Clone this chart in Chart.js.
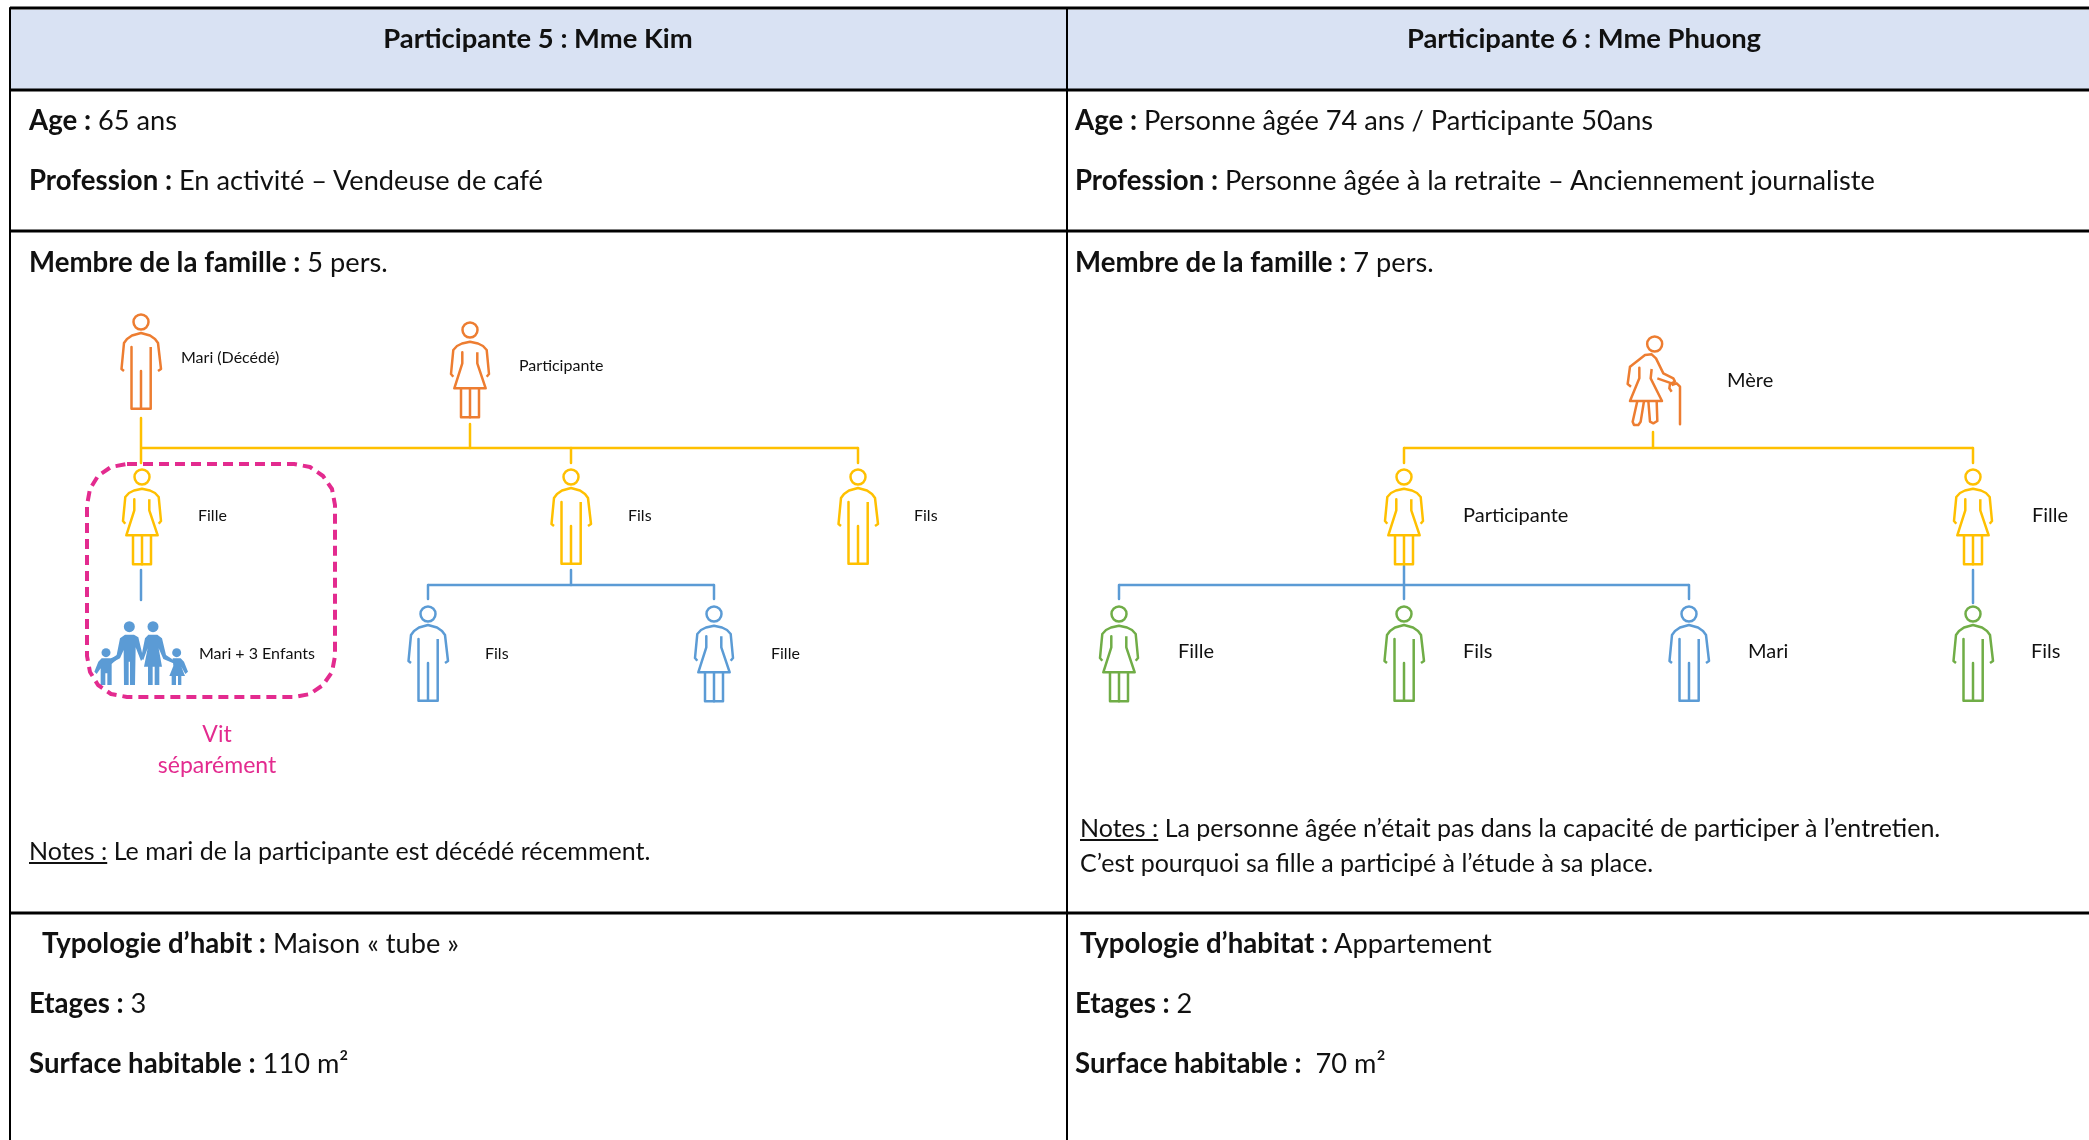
<!DOCTYPE html>
<html lang="fr">
<head>
<meta charset="utf-8">
<title>Participantes 5 et 6</title>
<script src="https://cdn.jsdelivr.net/npm/chart.js"></script>
<style>
  html, body { margin: 0; padding: 0; background: #fff; overflow: hidden; }
  #page { position: relative; width: 2089px; height: 1140px; overflow: hidden; font-family: Lato, sans-serif; color: #111; }
  #diagram { position: absolute; left: 0; top: 0; }
  .t { position: absolute; white-space: nowrap; transform: translateY(-50%); font-size: 27.2px; line-height: 1.2; }
  .t b { font-size: 27.6px; }
  .c { transform: translate(-50%, -50%); }
  .small { font-size: 16px; }
  .mid { font-size: 20px; }
  .pink { color: #e32b8f; font-size: 23px; }
  .head { font-weight: 700; font-size: 27.4px; }
  .note { font-size: 25px; }
</style>
</head>
<body>
<div id="page">
  <canvas id="diagram" width="2089" height="1140"></canvas>
</div>
<script>
// people of both family trees, x/y = centre of the head in page pixels
const personX = [141, 470, 142, 571, 858, 428, 714, 1404, 1973, 1119, 1404, 1689, 1973];
const personY = [322, 330, 477, 477, 477, 614, 614, 477, 477, 614, 614, 614, 614];
const personShape = ["man", "woman", "woman", "man", "man", "man", "woman", "woman", "woman", "woman", "man", "man", "man"];
const personColor = ["#ED7D31", "#ED7D31", "#FFC000", "#FFC000", "#FFC000", "#5B9BD5", "#5B9BD5", "#FFC000", "#FFC000", "#70AD47", "#70AD47", "#5B9BD5", "#70AD47"];

// connectors [x1, y1, x2, y2]
const yellowLinks = [
  [141, 418, 141, 463], [141, 448, 858, 448], [470, 424, 470, 448], [571, 448, 571, 463], [858, 448, 858, 463],
  [1653, 432, 1653, 448], [1404, 448, 1973, 448], [1404, 448, 1404, 463], [1973, 448, 1973, 463]
];
const blueLinks = [
  [141, 570, 141, 600], [571, 570, 571, 585], [428, 585, 714, 585], [428, 585, 428, 599], [714, 585, 714, 599],
  [1404, 566, 1404, 585], [1119, 585, 1689, 585], [1119, 585, 1119, 599], [1404, 585, 1404, 599], [1689, 585, 1689, 599],
  [1973, 570, 1973, 603]
];
const tableLines = [
  [10, 8, 2089, 8], [10, 90, 2089, 90], [10, 231, 2089, 231], [10, 913, 2089, 913],
  [10, 8, 10, 1140], [1067, 8, 1067, 1140]
];

// stick figures, offsets from the head centre
const manStrokes = [
  [[-17, 49], [-19.5, 47], [-17, 21], [-14, 17], [-9, 13.5], [0, 11], [9, 13.5], [14, 17], [17, 21], [20, 47], [17, 49]],
  [[-9.5, 25], [-9.5, 86.7], [9.7, 86.7], [9.7, 25]],
  [[0, 49], [0, 86.7]]
];
const womanStrokes = [
  [[-16.7, 46.7], [-19, 44], [-16.7, 20], [-13, 16], [-8, 13.5], [0, 11.7], [8, 13.5], [13, 16], [16.7, 20], [19, 44], [16.7, 46.7]],
  [[-7.7, 22.3], [-7.7, 33.3], [-15.7, 58.3], [15.7, 58.3], [7.3, 33.3], [7.3, 22.3]],
  [[-9, 58.3], [-9, 87.3], [9, 87.3], [9, 58.3]],
  [[0, 58.3], [0, 87.3]]
];
// Mere with her cane, zoomed crop units (1/3 px)
const motherOrigin = [1580, 320];
const motherHead = [224, 72];
const motherStrokes = [
  [[153, 200], [143, 192], [150, 140], [195, 105], [215, 103], [228, 115], [250, 160], [280, 175], [285, 185], [270, 192], [268, 205], [275, 215]],
  [[232, 175], [275, 190]],
  [[178, 143], [178, 175], [150, 243], [246, 243], [212, 175], [215, 147]],
  [[172, 243], [158, 305], [162, 315], [175, 315], [182, 305], [192, 243]],
  [[205, 243], [210, 305], [220, 310], [232, 303], [230, 243]],
  [[275, 195], [290, 190], [300, 200], [300, 313]]
];
// blue family pictogram, same crop units
const familyOrigin = [80, 560];
const familyHeads = [[148, 200, 5.5], [219, 200, 5.5], [78, 278, 4.5], [290, 278, 4.5]];
const familyBodies = [
  [[135, 224], [162, 224], [175, 232], [190, 295], [183, 303], [167, 262], [165, 375], [151, 375], [150, 305], [146, 305], [146, 375], [132, 375], [131, 270], [120, 295], [92, 310], [88, 300], [110, 285], [120, 235]],
  [[205, 224], [232, 224], [246, 235], [258, 285], [285, 303], [280, 310], [250, 297], [236, 265], [246, 320], [238, 320], [238, 375], [224, 375], [224, 320], [218, 320], [218, 375], [204, 375], [204, 320], [192, 320], [203, 265], [190, 300], [183, 295], [195, 235]],
  [[65, 295], [92, 295], [105, 290], [108, 300], [95, 312], [95, 375], [82, 375], [82, 340], [76, 340], [76, 375], [62, 375], [62, 325], [50, 342], [43, 335], [55, 305]],
  [[278, 295], [302, 295], [312, 305], [324, 335], [316, 342], [304, 320], [315, 348], [304, 348], [304, 375], [294, 375], [294, 348], [288, 348], [288, 375], [275, 375], [275, 348], [268, 348], [280, 318]]
];
// dashed "vit separement" box outline
const boxOutline = [
  [127, 464], [294, 464], [310, 467], [323, 476], [332, 489], [335, 505], [335, 656], [332, 672], [323, 685], [310, 694], [294, 697],
  [127, 697], [111, 694], [98, 685], [90, 672], [87, 656], [87, 505], [90, 489], [98, 476], [111, 467], [127, 464]
];
const headerFill = [[11, 10], [2089, 10], [2089, 89], [11, 89]];

// text: [html, x, y, class]
const texts = [
  ["Participante 5 : Mme Kim", 538, 38, "head c"],
  ["Participante 6 : Mme Phuong", 1584, 38, "head c"],
  ["<b>Age :</b> 65 ans", 29, 120, ""],
  ["<b>Profession :</b> En activité – Vendeuse de café", 29, 180, ""],
  ["<b>Membre de la famille :</b> 5 pers.", 29, 262, ""],
  ["Mari (Décédé)", 181, 357, "small"],
  ["Participante", 519, 365, "small"],
  ["Fille", 198, 515, "small"],
  ["Fils", 628, 515, "small"],
  ["Fils", 914, 515, "small"],
  ["Mari + 3 Enfants", 199, 653, "small"],
  ["Fils", 485, 653, "small"],
  ["Fille", 771, 653, "small"],
  ["Vit", 217, 734, "pink c"],
  ["séparément", 217, 765, "pink c"],
  ["<u>Notes :</u> Le mari de la participante est décédé récemment.", 29, 850, "note"],
  ["<b>Typologie d’habit :</b> Maison « tube »", 42, 943, ""],
  ["<b>Etages :</b> 3", 29, 1003, ""],
  ["<b>Surface habitable :</b> 110 m²", 29, 1063, ""],
  ["<b>Age :</b> Personne âgée 74 ans / Participante 50ans", 1075, 120, ""],
  ["<b>Profession :</b> Personne âgée à la retraite – Anciennement journaliste", 1075, 180, ""],
  ["<b>Membre de la famille :</b> 7 pers.", 1075, 262, ""],
  ["Mère", 1727, 379, "mid"],
  ["Participante", 1463, 514, "mid"],
  ["Fille", 2032, 514, "mid"],
  ["Fille", 1178, 650, "mid"],
  ["Fils", 1463, 650, "mid"],
  ["Mari", 1748, 650, "mid"],
  ["Fils", 2031, 650, "mid"],
  ["<u>Notes :</u> La personne âgée n’était pas dans la capacité de participer à l’entretien.", 1080, 827, "note"],
  ["C’est pourquoi sa fille a participé à l’étude à sa place.", 1080, 862, "note"],
  ["<b>Typologie d’habitat :</b> Appartement", 1080, 943, ""],
  ["<b>Etages :</b> 2", 1075, 1003, ""],
  ["<b>Surface habitable :</b>&nbsp; 70 m²", 1075, 1063, ""]
];

const datasets = [];

function addLine(points, color, width, dash) {
  datasets.push({
    data: points.map(function(p) { return { x: p[0], y: p[1] }; }),
    borderColor: color,
    borderWidth: width,
    borderDash: dash || [],
    borderJoinStyle: "round",
    pointRadius: 0,
    fill: false,
    clip: false
  });
}

function addShape(points, color) {
  datasets.push({
    data: points.map(function(p) { return { x: p[0], y: p[1] }; }),
    borderColor: color,
    borderWidth: 0,
    backgroundColor: color,
    pointRadius: 0,
    fill: "shape",
    clip: false
  });
}

function addHead(x, y, radius, color, filled) {
  datasets.push({
    data: [{ x: x, y: y }],
    showLine: false,
    pointStyle: "circle",
    pointRadius: radius,
    pointBorderWidth: filled ? 0 : 2.5,
    pointBorderColor: color,
    pointBackgroundColor: filled ? color : "#fff",
    clip: false
  });
}

function fromCrop(origin, p) {
  return [origin[0] + p[0] / 3, origin[1] + p[1] / 3];
}

addShape(headerFill, "#D9E2F3");

tableLines.forEach(function(l) {
  const vertical = l[0] === l[2];
  addLine([[l[0], l[1]], [l[2], l[3]]], "#000", vertical ? 2 : 3);
});

yellowLinks.forEach(function(l) { addLine([[l[0], l[1]], [l[2], l[3]]], "#FFC000", 2.5); });
blueLinks.forEach(function(l) { addLine([[l[0], l[1]], [l[2], l[3]]], "#5B9BD5", 2.5); });

personX.forEach(function(x, i) {
  const y = personY[i];
  const strokes = personShape[i] === "man" ? manStrokes : womanStrokes;
  strokes.forEach(function(s) {
    addLine(s.map(function(p) { return [x + p[0], y + p[1]]; }), personColor[i], 2.5);
  });
  addHead(x, y, 7.5, personColor[i], false);
});

motherStrokes.forEach(function(s) {
  addLine(s.map(function(p) { return fromCrop(motherOrigin, p); }), "#ED7D31", 2.5);
});
const motherCentre = fromCrop(motherOrigin, motherHead);
addHead(motherCentre[0], motherCentre[1], 7.5, "#ED7D31", false);

familyBodies.forEach(function(b) {
  addShape(b.map(function(p) { return fromCrop(familyOrigin, p); }), "#5B9BD5");
});
familyHeads.forEach(function(h) {
  const c = fromCrop(familyOrigin, h);
  addHead(c[0], c[1], h[2], "#5B9BD5", true);
});

addLine(boxOutline, "#E32B8F", 4, [10, 6]);

// Chart.js paints the first dataset last, header fill has to end up underneath
datasets.reverse();

new Chart(document.getElementById("diagram"), {
  type: "line",
  data: { datasets: datasets },
  options: {
    responsive: false,
    animation: false,
    events: [],
    layout: { padding: 0, autoPadding: false },
    plugins: { legend: { display: false }, tooltip: { enabled: false } },
    scales: {
      x: { type: "linear", min: 0, max: 2089, display: false },
      y: { type: "linear", min: 0, max: 1140, reverse: true, display: false }
    }
  }
});

const page = document.getElementById("page");
texts.forEach(function(t) {
  const el = document.createElement("div");
  el.className = "t " + t[3];
  el.innerHTML = t[0];
  el.style.left = t[1] + "px";
  el.style.top = t[2] + "px";
  page.appendChild(el);
});
</script>
</body>
</html>
